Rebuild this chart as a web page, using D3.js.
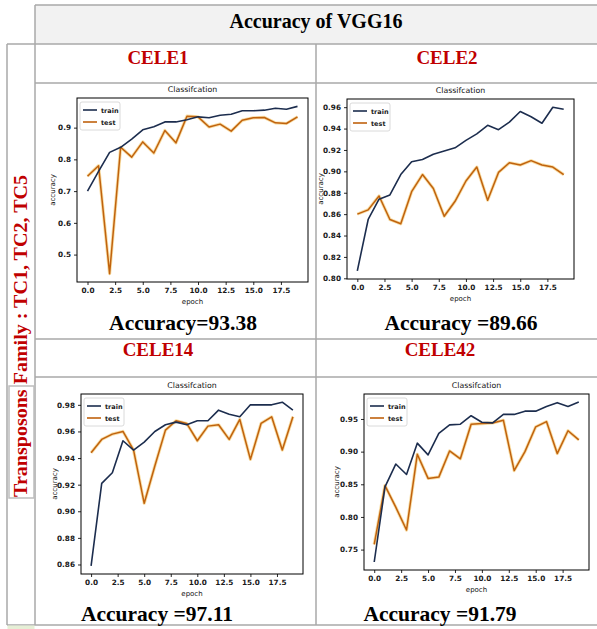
<!DOCTYPE html>
<html>
<head>
<meta charset="utf-8">
<script src="https://cdn.jsdelivr.net/npm/d3@7"></script>
<style>
  body { margin: 0; background: #fff; }
  svg { display: block; }
</style>
</head>
<body>
<div id="chart"></div>
<script>
// values
const epochs = [0, 1, 2, 3, 4, 5, 6, 7, 8, 9, 10, 11, 12, 13, 14, 15, 16, 17, 18, 19];
const xTicks = [0, 2.5, 5, 7.5, 10, 12.5, 15, 17.5];

const cele1Train = [0.700, 0.762, 0.822, 0.838, 0.864, 0.893, 0.903, 0.918, 0.918, 0.925, 0.934, 0.931, 0.939, 0.942, 0.953, 0.953, 0.955, 0.961, 0.958, 0.967];
const cele1Test  = [0.747, 0.780, 0.440, 0.838, 0.807, 0.855, 0.820, 0.891, 0.852, 0.936, 0.934, 0.902, 0.911, 0.889, 0.923, 0.931, 0.932, 0.915, 0.913, 0.934];
const cele1YTicks = [0.5, 0.6, 0.7, 0.8, 0.9];

const cele2Train = [0.807, 0.855, 0.874, 0.878, 0.897, 0.909, 0.911, 0.916, 0.919, 0.922, 0.929, 0.935, 0.943, 0.939, 0.946, 0.956, 0.951, 0.945, 0.960, 0.958];
const cele2Test  = [0.860, 0.864, 0.877, 0.855, 0.851, 0.881, 0.897, 0.884, 0.858, 0.872, 0.891, 0.904, 0.873, 0.899, 0.908, 0.906, 0.910, 0.906, 0.904, 0.897];
const cele2YTicks = [0.80, 0.82, 0.84, 0.86, 0.88, 0.90, 0.92, 0.94, 0.96];

const cele14Train = [0.859, 0.921, 0.929, 0.953, 0.946, 0.952, 0.960, 0.965, 0.967, 0.965, 0.968, 0.968, 0.976, 0.973, 0.971, 0.980, 0.980, 0.980, 0.982, 0.976];
const cele14Test  = [0.944, 0.954, 0.958, 0.960, 0.946, 0.906, 0.934, 0.961, 0.968, 0.966, 0.953, 0.964, 0.965, 0.954, 0.969, 0.939, 0.966, 0.971, 0.946, 0.971];
const cele14YTicks = [0.86, 0.88, 0.90, 0.92, 0.94, 0.96, 0.98];

const cele42Train = [0.731, 0.846, 0.881, 0.865, 0.913, 0.895, 0.928, 0.941, 0.942, 0.955, 0.945, 0.944, 0.957, 0.957, 0.962, 0.962, 0.969, 0.975, 0.969, 0.976];
const cele42Test  = [0.758, 0.848, 0.815, 0.780, 0.896, 0.859, 0.861, 0.901, 0.889, 0.942, 0.943, 0.944, 0.948, 0.871, 0.900, 0.938, 0.946, 0.897, 0.932, 0.918];
const cele42YTicks = [0.75, 0.80, 0.85, 0.90, 0.95];

const cellNames = ["CELE1", "CELE2", "CELE14", "CELE42"];
const accuracyLabels = ["Accuracy=93.38", "Accuracy =89.66", "Accuracy =97.11", "Accuracy =91.79"];

const W = 597, H = 629;
const gridColor = "#a8a8a8";
const red = "#c00000";
const serif = "'Liberation Serif', 'Times New Roman', serif";
const sans = "'DejaVu Sans', 'Liberation Sans', sans-serif";

const svg = d3.select("#chart").append("svg")
    .attr("width", W)
    .attr("height", H);

// ---- table frame ----
svg.append("rect")
    .attr("x", 35).attr("y", 5).attr("width", W - 35).attr("height", 39)
    .attr("fill", "#f2f2f2");

const gridLines = [
    [35, 5, W, 5], [35, 5, 35, 625], [7, 44, W, 44], [7, 44, 7, 625],
    [316, 44, 316, 625], [35, 83, W, 83], [35, 339, W, 339], [35, 377, W, 377],
    [7, 625, W, 625]
];
svg.append("g").selectAll("line")
    .data(gridLines)
    .enter().append("line")
    .attr("x1", d => d[0]).attr("y1", d => d[1])
    .attr("x2", d => d[2]).attr("y2", d => d[3])
    .attr("stroke", gridColor)
    .attr("stroke-width", 1.5);

svg.append("rect")
    .attr("x", 7.5).attr("y", 625.5).attr("width", 27).attr("height", 4)
    .attr("fill", "#e6efd6");

svg.append("text")
    .attr("x", 316).attr("y", 28)
    .attr("text-anchor", "middle")
    .style("font-family", serif).style("font-weight", "bold").style("font-size", "20px")
    .text("Accuracy of VGG16");

// rotated label in the left column
svg.append("rect")
    .attr("x", 9).attr("y", 386).attr("width", 25).attr("height", 112)
    .attr("fill", "#fff").attr("stroke", "#bdbdbd").attr("stroke-width", 1.5);

svg.append("text")
    .attr("transform", "translate(27,497) rotate(-90)")
    .attr("text-anchor", "start")
    .attr("textLength", 322)
    .attr("lengthAdjust", "spacingAndGlyphs")
    .style("font-family", serif).style("font-weight", "bold").style("font-size", "19px")
    .style("fill", red)
    .text("Transposons Family : TC1, TC2, TC5");

// cell captions
const captionPos = [[158, 64], [447, 64], [158, 356], [440, 356]];
const accPos = [[183, 330], [461, 330], [157, 621], [440, 621]];

svg.append("g").selectAll("text")
    .data(cellNames)
    .enter().append("text")
    .attr("x", (d, i) => captionPos[i][0])
    .attr("y", (d, i) => captionPos[i][1])
    .attr("text-anchor", "middle")
    .style("font-family", serif).style("font-weight", "bold").style("font-size", "19px")
    .style("fill", red)
    .text(d => d);

svg.append("g").selectAll("text")
    .data(accuracyLabels)
    .enter().append("text")
    .attr("x", (d, i) => accPos[i][0])
    .attr("y", (d, i) => accPos[i][1])
    .attr("text-anchor", "middle")
    .style("font-family", serif).style("font-weight", "bold").style("font-size", "21.5px")
    .text(d => d);

// ---- small matplotlib-style plots ----
function drawPlot(cfg) {
    const { left, right, top, bottom } = cfg.box;

    // white picture area
    svg.append("rect")
        .attr("x", cfg.bg[0]).attr("y", cfg.bg[1])
        .attr("width", cfg.bg[2]).attr("height", cfg.bg[3])
        .attr("fill", "#fff");

    const all = cfg.train.concat(cfg.test);
    const ext = d3.extent(all);
    const pad = (ext[1] - ext[0]) * 0.05;

    const x = d3.scaleLinear()
        .domain([-0.95, 19.95])
        .range([left, right]);
    const y = d3.scaleLinear()
        .domain([ext[0] - pad, ext[1] + pad])
        .range([bottom, top]);

    const g = svg.append("g");

    const xAxis = g.append("g")
        .attr("transform", `translate(0,${bottom})`)
        .call(d3.axisBottom(x).tickValues(xTicks).tickSize(3).tickPadding(3)
            .tickFormat(d3.format(".1f")));
    const yAxis = g.append("g")
        .attr("transform", `translate(${left},0)`)
        .call(d3.axisLeft(y).tickValues(cfg.yTicks).tickSize(3).tickPadding(3)
            .tickFormat(d3.format(cfg.fmt)));

    [xAxis, yAxis].forEach(a => {
        a.select(".domain").remove();
        a.selectAll(".tick line").attr("stroke", "#111").attr("stroke-width", 0.9);
        a.selectAll(".tick text")
            .style("font-family", sans).style("font-size", "7.3px").style("font-weight", "bold")
            .attr("fill", "#1a1a1a");
    });

    const line = d3.line()
        .x((d, i) => x(epochs[i]))
        .y(d => y(d));

    // test line: orange with a soft yellow halo
    g.append("path")
        .datum(cfg.test)
        .attr("d", line)
        .attr("fill", "none")
        .attr("stroke", "#f2c15a")
        .attr("stroke-opacity", 0.55)
        .attr("stroke-width", 3.2)
        .attr("stroke-linejoin", "round");
    g.append("path")
        .datum(cfg.test)
        .attr("d", line)
        .attr("fill", "none")
        .attr("stroke", "#c0620e")
        .attr("stroke-width", 1.5)
        .attr("stroke-linejoin", "round");

    g.append("path")
        .datum(cfg.train)
        .attr("d", line)
        .attr("fill", "none")
        .attr("stroke", "#1c2d4e")
        .attr("stroke-width", 1.6)
        .attr("stroke-linejoin", "round");

    g.append("rect")
        .attr("x", left).attr("y", top)
        .attr("width", right - left).attr("height", bottom - top)
        .attr("fill", "none")
        .attr("stroke", "#000")
        .attr("stroke-width", 1);

    // legend
    const lg = g.append("g").attr("transform", `translate(${left + 3},${top + 4})`);
    lg.append("rect")
        .attr("width", 40).attr("height", 28).attr("rx", 2)
        .attr("fill", "#fff").attr("fill-opacity", 0.85)
        .attr("stroke", "#d0d0d0").attr("stroke-width", 0.8);
    const items = [["train", "#1c2d4e"], ["test", "#c0620e"]];
    items.forEach((it, i) => {
        const yy = 8 + i * 12;
        lg.append("line")
            .attr("x1", 3).attr("x2", 17).attr("y1", yy).attr("y2", yy)
            .attr("stroke", it[1]).attr("stroke-width", 1.6);
        lg.append("text")
            .attr("x", 21).attr("y", yy + 2.5)
            .style("font-family", sans).style("font-size", "6.5px").style("font-weight", "bold")
            .attr("fill", "#1a1a1a")
            .text(it[0]);
    });

    g.append("text")
        .attr("x", (left + right) / 2).attr("y", top - 6)
        .attr("text-anchor", "middle")
        .style("font-family", sans).style("font-size", "7.8px")
        .attr("fill", "#111")
        .text("Classifcation");

    g.append("text")
        .attr("x", (left + right) / 2).attr("y", bottom + 22)
        .attr("text-anchor", "middle")
        .style("font-family", sans).style("font-size", "7px")
        .attr("fill", "#111")
        .text("epoch");

    g.append("text")
        .attr("transform", `translate(${cfg.yLabelX},${(top + bottom) / 2}) rotate(-90)`)
        .attr("text-anchor", "middle")
        .style("font-family", sans).style("font-size", "7px")
        .attr("fill", "#111")
        .text("accuracy");
}

drawPlot({
    box: { left: 77, right: 308, top: 98, bottom: 282 },
    bg: [52, 84, 258, 223],
    train: cele1Train, test: cele1Test, yTicks: cele1YTicks, fmt: ".1f", yLabelX: 55
});
drawPlot({
    box: { left: 347, right: 574, top: 99, bottom: 279 },
    bg: [318, 84, 250, 222],
    train: cele2Train, test: cele2Test, yTicks: cele2YTicks, fmt: ".2f", yLabelX: 323
});
drawPlot({
    box: { left: 81, right: 303, top: 394, bottom: 574 },
    bg: [50, 378, 262, 224],
    train: cele14Train, test: cele14Test, yTicks: cele14YTicks, fmt: ".2f", yLabelX: 57
});
drawPlot({
    box: { left: 364, right: 589, top: 394, bottom: 570 },
    bg: [334, 378, 262, 222],
    train: cele42Train, test: cele42Test, yTicks: cele42YTicks, fmt: ".2f", yLabelX: 339
});
</script>
</body>
</html>
